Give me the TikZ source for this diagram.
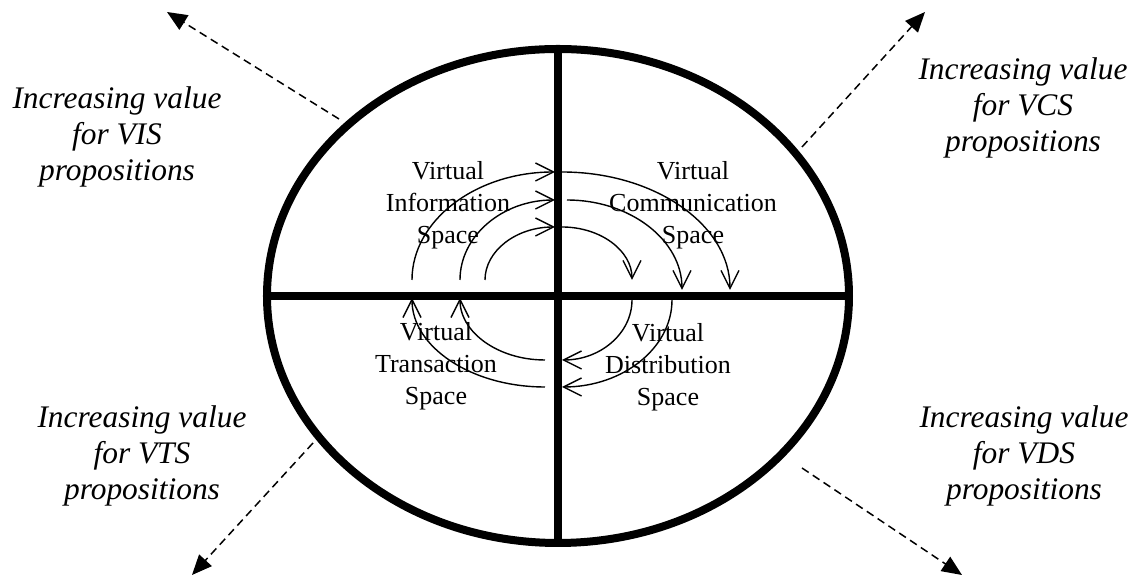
\documentclass[tikz,border=0pt]{standalone}
\usepackage{fontspec}
\setmainfont{Liberation Serif}
\usepackage{tikz}
\usetikzlibrary{arrows.meta}
\newcommand{\spin}[5]{\draw[turn] (#1) arc[start angle=#2,end angle=#3,x radius=#4,y radius=#5];}

\begin{document}
\begin{tikzpicture}[x=0.5pt,y=0.5pt,
  turn/.style={line width=0.7pt,-{Straight Barb[length=9pt,width=9pt]}},
  reach/.style={line width=0.75pt,dash pattern=on 4pt off 2.5pt,-{Triangle[length=10pt,width=8.5pt]}},
  space/.style={align=center,font=\fontsize{13}{16}\selectfont},
  gain/.style={align=center,font=\fontsize{15.7}{18}\selectfont\itshape}]
\useasboundingbox (-558,-280) rectangle (578,296);
\draw[line width=4pt] (0,0) ellipse[x radius=291,y radius=247];
\draw[line width=4pt] (-291,0)--(291,0); \draw[line width=4pt] (0,-247)--(0,247);
\node[space] (vis) at (-110,91) {Virtual\\Information\\Space};
\node[space] (vcs) at (135,91) {Virtual\\Communication\\Space};
\node[space] (vts) at (-122,-70) {Virtual\\Transaction\\Space};
\node[space] (vds) at (110,-71) {Virtual\\Distribution\\Space};
\spin{-73,16}{180}{90}{70}{53} \spin{4,69}{90}{0}{70}{53} \spin{74,-4}{0}{-90}{70}{60} \spin{-13,-64}{270}{180}{85}{62}
\spin{-98,16}{180}{90}{95}{80} \spin{9,96}{90}{0}{115}{90} \spin{114,-4}{0}{-90}{110}{87} \spin{-13,-91}{270}{180}{133}{89}
\spin{-146,16}{180}{90}{143}{108} \spin{4,124}{90}{0}{168}{118}
\node[gain] (gvis) at (-441,159) {Increasing value\\for VIS\\propositions};
\node[gain] (gvcs) at (465,188) {Increasing value\\for VCS\\propositions};
\node[gain] (gvts) at (-416,-160) {Increasing value\\for VTS\\propositions};
\node[gain] (gvds) at (466,-160) {Increasing value\\for VDS\\propositions};
\coordinate (nw0) at (-219,177); \coordinate (nw1) at (-391,284);
\coordinate (ne0) at (244,149); \coordinate (ne1) at (367,284);
\coordinate (sw0) at (-245,-147); \coordinate (sw1) at (-366,-279);
\coordinate (se0) at (244,-172); \coordinate (se1) at (404,-279);
\draw[reach] (nw0)--(nw1); \draw[reach] (ne0)--(ne1); \draw[reach] (sw0)--(sw1); \draw[reach] (se0)--(se1);
\end{tikzpicture}
\end{document}
